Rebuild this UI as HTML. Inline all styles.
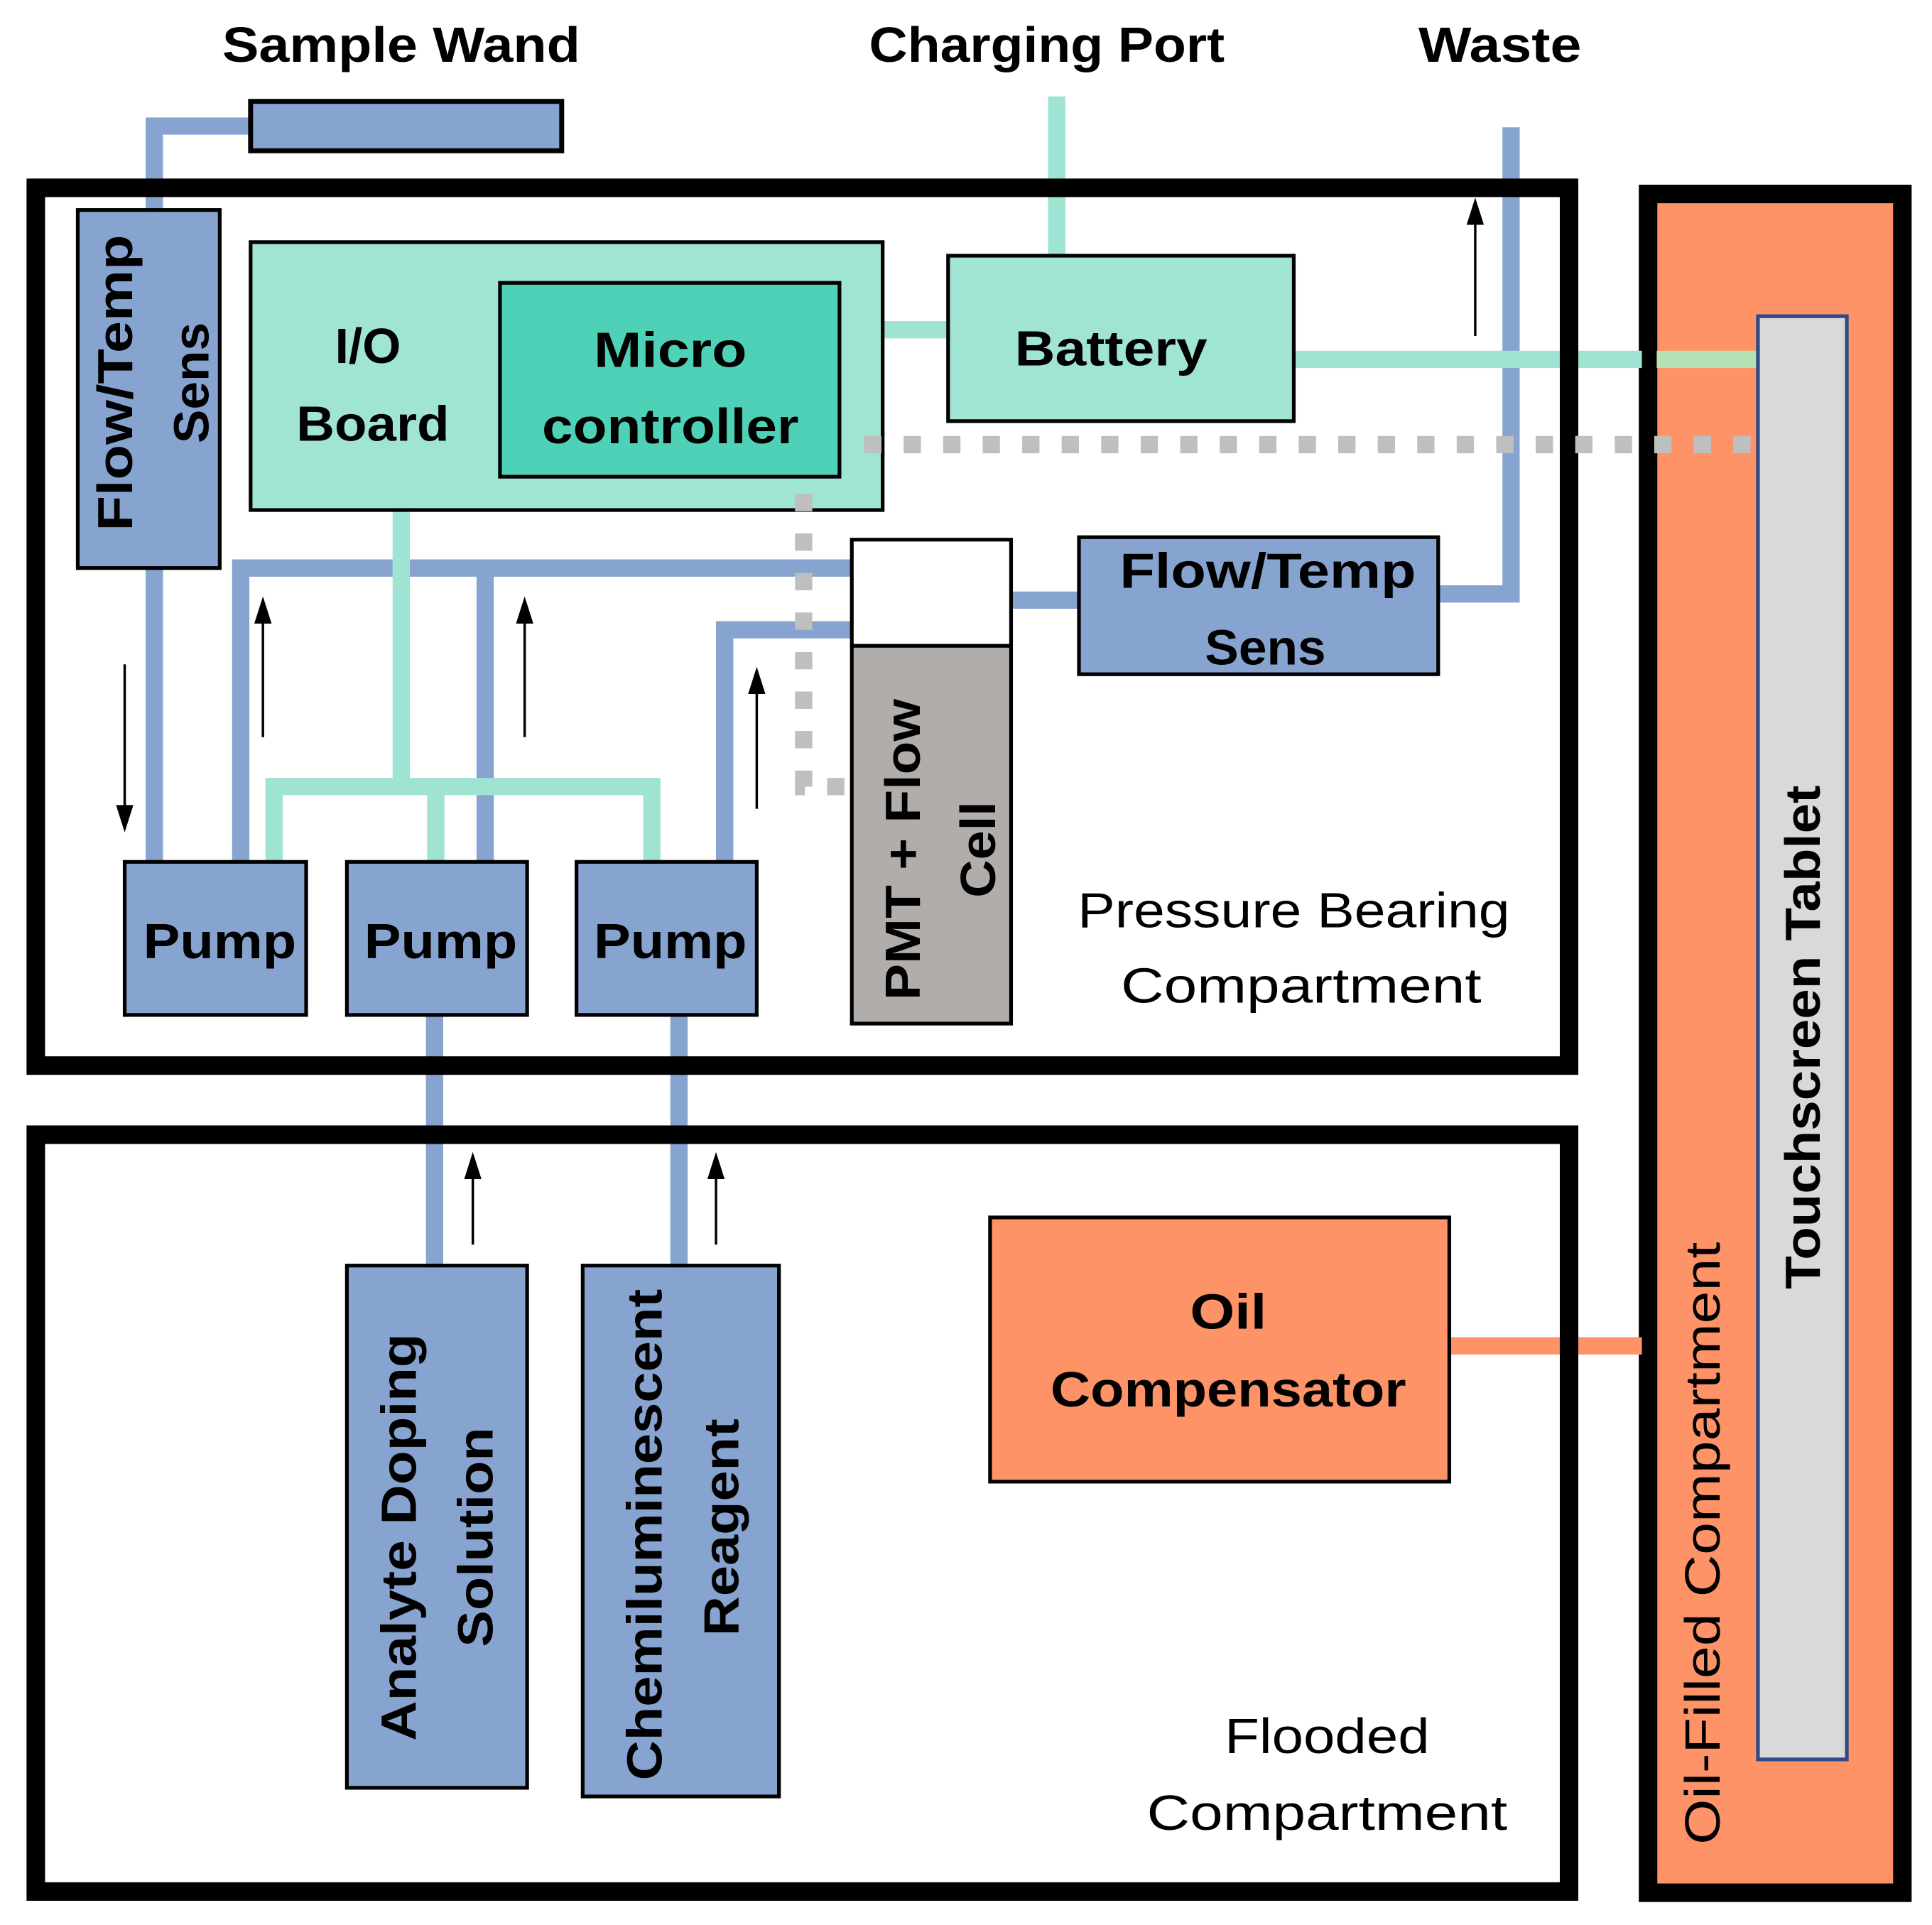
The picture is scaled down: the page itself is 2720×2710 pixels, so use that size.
<!DOCTYPE html>
<html><head><meta charset="utf-8"><style>html,body{margin:0;padding:0;background:#fff}svg{display:block}</style></head>
<body>
<svg width="2720" height="2710" viewBox="0 0 1565 1559" xmlns="http://www.w3.org/2000/svg" font-family="Liberation Sans, sans-serif">
<rect width="1565" height="1559" fill="#fff"/>
<rect x="1335" y="157" width="206" height="1376" fill="#fd9366" stroke="#000" stroke-width="15"/>
<g stroke="#87a3cf" stroke-width="14" fill="none">
<polyline points="203,102 125,102 125,172"/>
<line x1="125" y1="458" x2="125" y2="700"/>
<polyline points="690,460 195,460 195,700"/>
<line x1="393" y1="460" x2="393" y2="700"/>
<polyline points="690,510 587,510 587,700"/>
<line x1="819" y1="486" x2="876" y2="486"/>
<polyline points="1163,481 1224,481 1224,103"/>
<line x1="352" y1="820" x2="352" y2="1027"/>
<line x1="550" y1="820" x2="550" y2="1027"/>
</g>
<g stroke="#9fe3d2" stroke-width="14" fill="none">
<line x1="856" y1="78" x2="856" y2="209"/>
<line x1="713" y1="267" x2="770" y2="267"/>
<line x1="1046" y1="291" x2="1330" y2="291"/>
<line x1="325" y1="411" x2="325" y2="637"/>
<polyline points="222,700 222,637 528,637 528,700"/>
<line x1="353" y1="637" x2="353" y2="700"/>
</g>
<line x1="1342" y1="291" x2="1424" y2="291" stroke="#b4e2b4" stroke-width="14"/>
<line x1="1174" y1="1090" x2="1330" y2="1090" stroke="#fd9366" stroke-width="14"/>
<rect x="29" y="152" width="1242" height="711" fill="none" stroke="#000" stroke-width="15"/>
<rect x="29" y="919" width="1242" height="613" fill="none" stroke="#000" stroke-width="15"/>
<rect x="1424" y="256" width="72" height="1169" fill="#d9d9d9" stroke="#2f4b86" stroke-width="3"/>
<g stroke="#000" stroke-width="3">
<rect x="203" y="82" width="252" height="40" fill="#87a3cf" stroke-width="4"/>
<rect x="63" y="170" width="115" height="290" fill="#87a3cf"/>
<rect x="203" y="196" width="512" height="217" fill="#a0e4d4"/>
<rect x="405" y="229" width="275" height="157" fill="#4fd1b7"/>
<rect x="768" y="207" width="280" height="134" fill="#a0e4d4"/>
<rect x="690" y="437" width="129" height="86" fill="#fff"/>
<rect x="690" y="523" width="129" height="306" fill="#b1adab"/>
<rect x="874" y="435" width="291" height="111" fill="#87a3cf"/>
<rect x="101" y="698" width="147" height="124" fill="#87a3cf"/>
<rect x="281" y="698" width="146" height="124" fill="#87a3cf"/>
<rect x="467" y="698" width="146" height="124" fill="#87a3cf"/>
<rect x="281" y="1025" width="146" height="423" fill="#87a3cf"/>
<rect x="472" y="1025" width="159" height="430" fill="#87a3cf"/>
<rect x="802" y="986" width="372" height="214" fill="#fd9366"/>
</g>
<g stroke="#bfbfbf" stroke-width="14" fill="none" stroke-dasharray="14 18">
<line x1="700" y1="360" x2="1436" y2="360"/>
<polyline points="651,400 651,637 690,637"/>
</g>
<g stroke="#000" stroke-width="2">
<line x1="1195" y1="272" x2="1195" y2="175"/>
<line x1="101" y1="538" x2="101" y2="658"/>
<line x1="213" y1="597" x2="213" y2="500"/>
<line x1="425" y1="597" x2="425" y2="500"/>
<line x1="613" y1="655" x2="613" y2="556"/>
<line x1="383" y1="1008" x2="383" y2="950"/>
<line x1="580" y1="1008" x2="580" y2="950"/>
</g>
<g fill="#000">
<polygon points="1195,160 1188,182 1202,182"/>
<polygon points="101,674 94,652 108,652"/>
<polygon points="213,483 206,505 220,505"/>
<polygon points="425,483 418,505 432,505"/>
<polygon points="613,540 606,562 620,562"/>
<polygon points="383,933 376,955 390,955"/>
<polygon points="580,933 573,955 587,955"/>
</g>
<g font-weight="bold" fill="#000" text-anchor="middle" font-size="40">
<text x="325" y="50" textLength="290" lengthAdjust="spacingAndGlyphs">Sample Wand</text>
<text x="848" y="50" textLength="288" lengthAdjust="spacingAndGlyphs">Charging Port</text>
<text x="1215" y="50" textLength="132" lengthAdjust="spacingAndGlyphs">Waste</text>
<text x="298" y="294">I/O</text>
<text x="302" y="357" textLength="124" lengthAdjust="spacingAndGlyphs">Board</text>
<text x="543" y="297" textLength="124" lengthAdjust="spacingAndGlyphs">Micro</text>
<text x="543" y="359" textLength="208" lengthAdjust="spacingAndGlyphs">controller</text>
<text x="900" y="296" textLength="156" lengthAdjust="spacingAndGlyphs">Battery</text>
<text x="1027" y="476" textLength="240" lengthAdjust="spacingAndGlyphs">Flow/Temp</text>
<text x="1025" y="538" textLength="98" lengthAdjust="spacingAndGlyphs">Sens</text>
<text x="178" y="776" textLength="124" lengthAdjust="spacingAndGlyphs">Pump</text>
<text x="357" y="776" textLength="124" lengthAdjust="spacingAndGlyphs">Pump</text>
<text x="543" y="776" textLength="124" lengthAdjust="spacingAndGlyphs">Pump</text>
<text x="995" y="1076" textLength="62" lengthAdjust="spacingAndGlyphs">Oil</text>
<text x="995" y="1139" textLength="288" lengthAdjust="spacingAndGlyphs">Compensator</text>
<text transform="translate(107,310) rotate(-90)" textLength="240" lengthAdjust="spacingAndGlyphs">Flow/Temp</text>
<text transform="translate(169,310) rotate(-90)" textLength="98" lengthAdjust="spacingAndGlyphs">Sens</text>
<text transform="translate(745,688) rotate(-90)" textLength="244" lengthAdjust="spacingAndGlyphs">PMT + Flow</text>
<text transform="translate(806,688) rotate(-90)" textLength="78" lengthAdjust="spacingAndGlyphs">Cell</text>
<text transform="translate(337,1245) rotate(-90)" textLength="330" lengthAdjust="spacingAndGlyphs">Analyte Doping</text>
<text transform="translate(399,1245) rotate(-90)" textLength="178" lengthAdjust="spacingAndGlyphs">Solution</text>
<text transform="translate(536,1243) rotate(-90)" textLength="398" lengthAdjust="spacingAndGlyphs">Chemiluminescent</text>
<text transform="translate(598,1237) rotate(-90)" textLength="176" lengthAdjust="spacingAndGlyphs">Reagent</text>
<text transform="translate(1474,840) rotate(-90)" textLength="408" lengthAdjust="spacingAndGlyphs">Touchscreen Tablet</text>
</g>
<g fill="#000" text-anchor="middle" font-size="40">
<text x="1048" y="751" textLength="350" lengthAdjust="spacingAndGlyphs">Pressure Bearing</text>
<text x="1054" y="812" textLength="292" lengthAdjust="spacingAndGlyphs">Compartment</text>
<text x="1075" y="1420" textLength="166" lengthAdjust="spacingAndGlyphs">Flooded</text>
<text x="1075" y="1482" textLength="292" lengthAdjust="spacingAndGlyphs">Compartment</text>
<text transform="translate(1393,1250) rotate(-90)" textLength="488" lengthAdjust="spacingAndGlyphs">Oil-Filled Compartment</text>
</g>
</svg>
</body></html>
